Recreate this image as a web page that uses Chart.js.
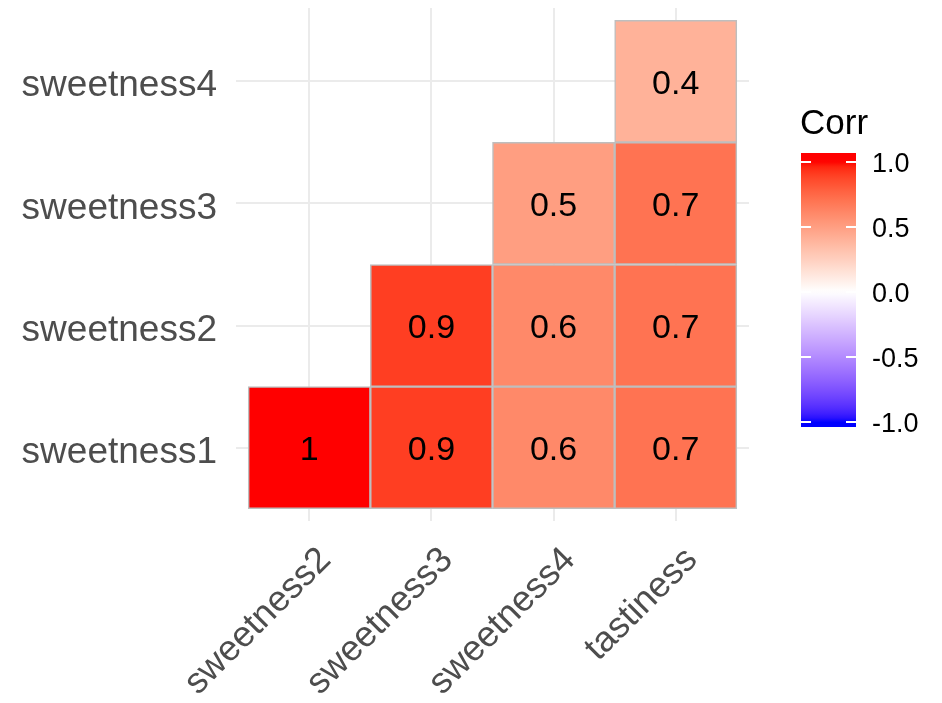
<!DOCTYPE html>
<html>
<head>
<meta charset="utf-8">
<script src="https://cdn.jsdelivr.net/npm/chart.js@4/dist/chart.umd.min.js"></script>
<style>
  html, body { margin: 0; padding: 0; background: #ffffff; }
  #wrap { width: 942px; height: 703px; }
</style>
</head>
<body>
<div id="wrap"><canvas id="chart" width="942" height="703"></canvas></div>
<script>
// Correlation matrix (lower triangle) of the sweetness measures and tastiness
const xLabels = ['sweetness2', 'sweetness3', 'sweetness4', 'tastiness'];
const yLabels = ['sweetness1', 'sweetness2', 'sweetness3', 'sweetness4'];

// one row per y category, bottom to top; null = empty cell
const corrSweetness1 = [1, 0.9, 0.6, 0.7];
const corrSweetness2 = [null, 0.9, 0.6, 0.7];
const corrSweetness3 = [null, null, 0.5, 0.7];
const corrSweetness4 = [null, null, null, 0.4];

const legendTitle = 'Corr';
const legendValues = [1, 0.5, 0, -0.5, -1];
const legendLabels = ['1.0', '0.5', '0.0', '-0.5', '-1.0'];

const rows = [corrSweetness1, corrSweetness2, corrSweetness3, corrSweetness4];

// ---- diverging blue / white / red scale interpolated in CIELAB ----
function toLin(c) { c /= 255; return c <= 0.04045 ? c / 12.92 : Math.pow((c + 0.055) / 1.055, 2.4); }
function toSrgb(c) {
  c = Math.max(0, Math.min(1, c));
  const v = c <= 0.0031308 ? 12.92 * c : 1.055 * Math.pow(c, 1 / 2.4) - 0.055;
  return Math.round(Math.max(0, Math.min(1, v)) * 255);
}
const WX = 0.95047, WY = 1.0, WZ = 1.08883;
function rgbToLab(rgb) {
  const R = toLin(rgb[0]), G = toLin(rgb[1]), B = toLin(rgb[2]);
  const X = (0.4124 * R + 0.3576 * G + 0.1805 * B) / WX;
  const Y = (0.2126 * R + 0.7152 * G + 0.0722 * B) / WY;
  const Z = (0.0193 * R + 0.1192 * G + 0.9505 * B) / WZ;
  const f = t => t > 0.008856 ? Math.cbrt(t) : 7.787 * t + 16 / 116;
  const fx = f(X), fy = f(Y), fz = f(Z);
  return [116 * fy - 16, 500 * (fx - fy), 200 * (fy - fz)];
}
function labToRgb(lab) {
  const fy = (lab[0] + 16) / 116, fx = fy + lab[1] / 500, fz = fy - lab[2] / 200;
  const fi = t => t > 0.206893 ? t * t * t : (t - 16 / 116) / 7.787;
  const X = fi(fx) * WX, Y = fi(fy) * WY, Z = fi(fz) * WZ;
  const R = 3.2406 * X - 1.5372 * Y - 0.4986 * Z;
  const G = -0.9689 * X + 1.8758 * Y + 0.0415 * Z;
  const B = 0.0557 * X - 0.2040 * Y + 1.0570 * Z;
  return [toSrgb(R), toSrgb(G), toSrgb(B)];
}
const LAB_LOW = rgbToLab([0, 0, 255]);
const LAB_MID = rgbToLab([255, 255, 255]);
const LAB_HIGH = rgbToLab([255, 0, 0]);
function corrColor(v) {
  v = Math.max(-1, Math.min(1, v));
  const end = v >= 0 ? LAB_HIGH : LAB_LOW;
  const t = Math.abs(v);
  const lab = [0, 1, 2].map(k => LAB_MID[k] + (end[k] - LAB_MID[k]) * t);
  const c = labToRgb(lab);
  return 'rgb(' + c[0] + ',' + c[1] + ',' + c[2] + ')';
}

// ---- datasets: one floating-bar series per row ----
const datasets = rows.map((vals, r) => ({
  label: yLabels[r],
  data: vals
    .map((v, i) => v === null ? null : { x: i + 1, y: [r + 0.5, r + 1.5], v: v })
    .filter(d => d !== null),
  backgroundColor: ctx => corrColor(ctx.raw.v),
  borderColor: '#BEBEBE',
  borderWidth: 1.5,
  borderSkipped: false,
  barPercentage: 1,
  categoryPercentage: 1,
  grouped: false
}));

const FONT = '"Liberation Sans", Arial, sans-serif';

// value text in the centre of each cell
const cellLabels = {
  id: 'cellLabels',
  afterDatasetsDraw(chart) {
    const ctx = chart.ctx;
    ctx.save();
    ctx.font = '34px ' + FONT;
    ctx.fillStyle = '#000000';
    ctx.textAlign = 'center';
    ctx.textBaseline = 'middle';
    chart.data.datasets.forEach((ds, di) => {
      const meta = chart.getDatasetMeta(di);
      meta.data.forEach((el, i) => {
        const v = ds.data[i].v;
        ctx.fillText(String(v), el.x, (el.y + el.base) / 2 + 3);
      });
    });
    ctx.restore();
  }
};

// colour bar legend on the right
const colorBar = {
  id: 'colorBar',
  afterDraw(chart) {
    const ctx = chart.ctx;
    const left = 801, width = 55, top = 153, bottom = 427;
    const yFor = v => 291.7 - v * 130;
    ctx.save();
    ctx.font = '35px ' + FONT;
    ctx.fillStyle = '#000000';
    ctx.textAlign = 'left';
    ctx.textBaseline = 'middle';
    ctx.fillText(legendTitle, 800, 124);

    const grad = ctx.createLinearGradient(0, top, 0, bottom);
    const steps = 60;
    for (let s = 0; s <= steps; s++) {
      const y = top + (bottom - top) * s / steps;
      const v = (291.7 - y) / 130;
      grad.addColorStop(s / steps, corrColor(v));
    }
    ctx.fillStyle = grad;
    ctx.fillRect(left, top, width, bottom - top);

    ctx.strokeStyle = '#FFFFFF';
    ctx.lineWidth = 2;
    legendValues.forEach(v => {
      const y = Math.round(yFor(v));
      ctx.beginPath();
      ctx.moveTo(left, y); ctx.lineTo(left + 10, y);
      ctx.moveTo(left + width - 10, y); ctx.lineTo(left + width, y);
      ctx.stroke();
    });

    ctx.font = '27px ' + FONT;
    ctx.fillStyle = '#000000';
    legendValues.forEach((v, i) => {
      ctx.fillText(legendLabels[i], 872, yFor(v) + 3);
    });
    ctx.restore();
  }
};

new Chart(document.getElementById('chart'), {
  type: 'bar',
  data: { datasets: datasets },
  options: {
    responsive: false,
    animation: false,
    events: [],
    layout: { padding: { top: 8, right: 193, left: 0, bottom: 0 } },
    plugins: { legend: { display: false }, tooltip: { enabled: false } },
    scales: {
      x: {
        type: 'linear',
        min: 0.4,
        max: 4.6,
        offset: false,
        afterBuildTicks: s => { s.ticks = xLabels.map((_, i) => ({ value: i + 1 })); },
        afterFit: s => {
          s.height = 182;
          s.paddingLeft = 0; s.paddingRight = 0;
        },
        grid: { color: '#EBEBEB', lineWidth: 2, drawTicks: false, offset: false },
        border: { display: false },
        ticks: {
          autoSkip: false,
          minRotation: 45,
          maxRotation: 45,
          padding: 18,
          labelOffset: 16,
          color: '#4D4D4D',
          font: { size: 36, family: FONT },
          callback: v => xLabels[Math.round(v) - 1]
        }
      },
      y: {
        type: 'linear',
        min: 0.4,
        max: 4.6,
        afterBuildTicks: s => { s.ticks = yLabels.map((_, i) => ({ value: i + 1 })); },
        afterFit: s => {
          s.width = 236;
          s.paddingTop = 0; s.paddingBottom = 0;
        },
        grid: { color: '#EBEBEB', lineWidth: 2, drawTicks: false },
        border: { display: false },
        ticks: {
          autoSkip: false,
          padding: 19,
          labelOffset: 5,
          color: '#4D4D4D',
          font: { size: 37, family: FONT },
          callback: v => yLabels[Math.round(v) - 1]
        }
      }
    }
  },
  plugins: [cellLabels, colorBar]
});
</script>
</body>
</html>
